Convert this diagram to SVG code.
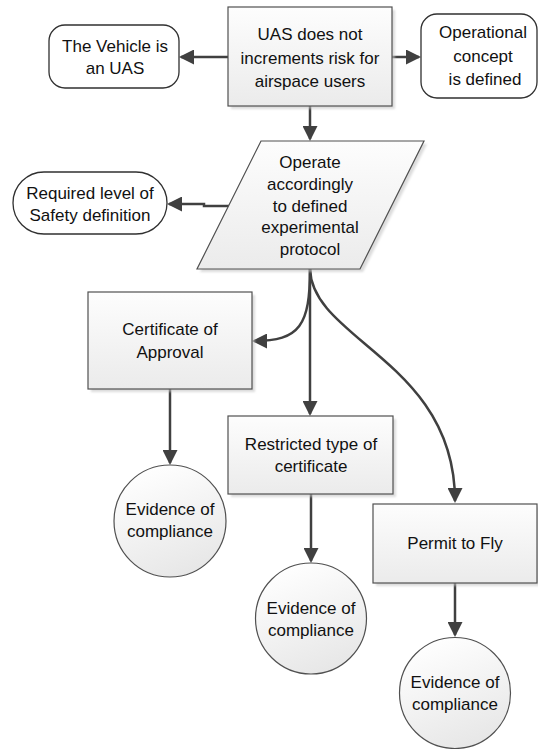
<svg xmlns="http://www.w3.org/2000/svg" width="538" height="749" viewBox="0 0 538 749">
  <defs>
    <linearGradient id="fillGrad" x1="0" y1="0" x2="0" y2="1">
      <stop offset="0" stop-color="#fdfdfd"/>
      <stop offset="1" stop-color="#ebebeb"/>
    </linearGradient>
    <linearGradient id="circGrad" x1="0.3" y1="0" x2="0.7" y2="1">
      <stop offset="0" stop-color="#ffffff"/>
      <stop offset="1" stop-color="#e6e6e6"/>
    </linearGradient>
    <filter id="soft" x="-10%" y="-10%" width="130%" height="130%">
      <feGaussianBlur stdDeviation="1.2"/>
    </filter>
    <marker id="arrow" viewBox="0 0 15 15" refX="13" refY="7.5" markerWidth="15" markerHeight="15" markerUnits="userSpaceOnUse" orient="auto">
      <path d="M0,0 L15,7.5 L0,15 z" fill="#404040"/>
    </marker>
  </defs>
  <style>
    .box { fill: url(#fillGrad); stroke: #505050; stroke-width: 1.2; }
    .circ { fill: url(#circGrad); stroke: #505050; stroke-width: 1.2; }
    .term { fill: #ffffff; stroke: #303030; stroke-width: 1.3; }
    .shadow { fill: #c4c4c4; opacity: 0.6; filter: url(#soft); }
    .lbl { font-family: "Liberation Sans", Arial, sans-serif; font-size: 17px; fill: #111111; text-anchor: middle; }
    .conn { fill: none; stroke: #404040; stroke-width: 2.5; marker-end: url(#arrow); }
  </style>
  <rect width="538" height="749" fill="#ffffff"/>

  <!-- connectors -->
  <g id="connectors">
    <path class="conn" d="M228,57 H181"/>
    <path class="conn" d="M392,57 H419"/>
    <path class="conn" d="M310,106 V139"/>
    <path class="conn" d="M229,206 H204 V204 H169"/>
    <path class="conn" d="M310,269 C310,325 300,341 254,341"/>
    <path class="conn" d="M310,269 V414"/>
    <path class="conn" d="M310,269 C312,340 455,362 455,501"/>
    <path class="conn" d="M170,389 V463"/>
    <path class="conn" d="M311,494 V561"/>
    <path class="conn" d="M455,583 V635"/>
  </g>

  <!-- central hazard statement -->
  <g id="n-uas-risk">
    <rect class="shadow" x="231" y="10" width="164" height="99"/>
    <rect class="box" x="228" y="7" width="164" height="99"/>
    <text class="lbl" x="310" y="40">UAS does not</text>
    <text class="lbl" x="310" y="63.5">increments risk for</text>
    <text class="lbl" x="310" y="87">airspace users</text>
  </g>

  <g id="n-vehicle">
    <rect class="term" x="49" y="25" width="130" height="63" rx="16" ry="16"/>
    <text class="lbl" x="115" y="52">The Vehicle is</text>
    <text class="lbl" x="115" y="74">an UAS</text>
  </g>

  <g id="n-opconcept">
    <rect class="term" x="421" y="14" width="116" height="84" rx="16" ry="16"/>
    <text class="lbl" x="483" y="38">Operational</text>
    <text class="lbl" x="483" y="62">concept</text>
    <text class="lbl" x="485" y="85">is defined</text>
  </g>

  <!-- operation protocol (parallelogram) -->
  <g id="n-operate">
    <polygon class="shadow" points="264,144 427,144 363,272 200,272"/>
    <polygon class="box" points="261,141 424,141 360,269 197,269"/>
    <text class="lbl" x="310" y="168">Operate</text>
    <text class="lbl" x="310" y="190">accordingly</text>
    <text class="lbl" x="310" y="212">to defined</text>
    <text class="lbl" x="310" y="233">experimental</text>
    <text class="lbl" x="310" y="255">protocol</text>
  </g>

  <g id="n-safety">
    <rect class="term" x="13" y="172" width="154" height="62" rx="31" ry="31"/>
    <text class="lbl" x="90" y="199">Required level of</text>
    <text class="lbl" x="90" y="221">Safety definition</text>
  </g>

  <!-- certification routes -->
  <g id="n-coa">
    <rect class="shadow" x="91" y="295" width="164" height="97"/>
    <rect class="box" x="88" y="292" width="164" height="97"/>
    <text class="lbl" x="170" y="335">Certificate of</text>
    <text class="lbl" x="170" y="358">Approval</text>
  </g>

  <g id="n-restricted">
    <rect class="shadow" x="231" y="419" width="165" height="78"/>
    <rect class="box" x="228" y="416" width="165" height="78"/>
    <text class="lbl" x="311" y="450">Restricted type of</text>
    <text class="lbl" x="311" y="472">certificate</text>
  </g>

  <g id="n-permit">
    <rect class="shadow" x="376" y="507" width="164" height="79"/>
    <rect class="box" x="373" y="504" width="164" height="79"/>
    <text class="lbl" x="455" y="549">Permit to Fly</text>
  </g>

  <!-- evidence nodes -->
  <g id="n-evidence-1">
    <circle class="circ" cx="170" cy="521" r="56"/>
    <text class="lbl" x="170" y="515">Evidence of</text>
    <text class="lbl" x="170" y="537">compliance</text>
  </g>

  <g id="n-evidence-2">
    <circle class="circ" cx="311" cy="618.5" r="55.5"/>
    <text class="lbl" x="311" y="614">Evidence of</text>
    <text class="lbl" x="311" y="636">compliance</text>
  </g>

  <g id="n-evidence-3">
    <circle class="circ" cx="455" cy="693" r="55.5"/>
    <text class="lbl" x="455" y="688">Evidence of</text>
    <text class="lbl" x="455" y="710">compliance</text>
  </g>
</svg>
